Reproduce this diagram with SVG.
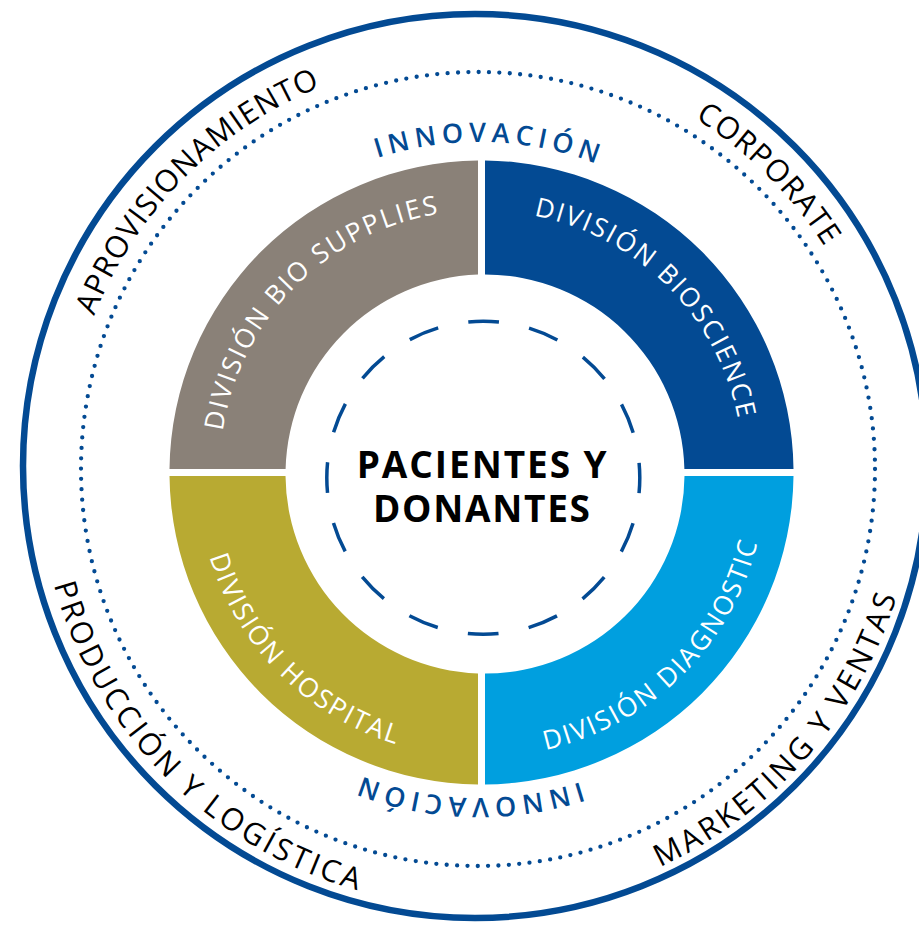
<svg xmlns="http://www.w3.org/2000/svg" xmlns:xlink="http://www.w3.org/1999/xlink" width="919" height="926" viewBox="0 0 919 926">
<style>
.arcTxt{font-family:"Open Sans","Liberation Sans",sans-serif;font-weight:400;}
.outer{font-size:30.5px;fill:#000;}
.outerUp{letter-spacing:1px;}
.outerLow{letter-spacing:3.2px;}
.innov{font-size:27px;fill:#034a93;letter-spacing:5.4px;font-weight:600;}
.div{font-size:26.5px;fill:#fff;letter-spacing:2px;}
.center{font-family:"Open Sans","Liberation Sans",sans-serif;font-weight:700;font-size:37px;fill:#000;}
</style>
<defs>
<path id="pAprov" d="M 79.6 576.7 A 412 412 0 0 1 581.6 69.5"/>
<path id="pCorp" d="M 369 70.4 A 412 412 0 0 1 875.3 573.2"/>
<path id="pProd" d="M 53 354.4 A 439 439 0 0 0 590.6 892"/>
<path id="pMark" d="M 393.2 898.9 A 439 439 0 0 0 892.1 325.1"/>
<path id="pInnTop" d="M 200.5 296.7 A 328 328 0 0 1 768.3 315.5"/>
<path id="pInnBot" d="M 757.5 643.3 A 328 328 0 0 1 189.7 624.5"/>
<path id="pBioSup" d="M 228.8 535.8 A 258 258 0 0 1 544.8 219.8"/>
<path id="pBioSci" d="M 418.2 219.8 A 258 258 0 0 1 734.2 535.8"/>
<path id="pHosp" d="M 207.1 403.4 A 280.5 280.5 0 0 0 550.6 746.9"/>
<path id="pDiag" d="M 410 746.3 A 280.5 280.5 0 0 0 756.6 405.8"/>
</defs>
<rect width="919" height="926" fill="#fff"/>
<g id="rings">
<circle id="outer-ring" cx="475" cy="466" r="452" fill="none" stroke="#034a93" stroke-width="6.5"/>
<circle id="dotted-ring" cx="478" cy="469" r="397" fill="none" stroke="#034a93" stroke-width="4.3" stroke-linecap="round" stroke-dasharray="0 10.393"/>
</g>
<g id="node-aprovisionamiento"><text class="arcTxt outer outerUp"><textPath href="#pAprov" xlink:href="#pAprov" startOffset="50%" text-anchor="middle">APROVISIONAMIENTO</textPath></text></g>
<g id="node-corporate"><text class="arcTxt outer outerUp"><textPath href="#pCorp" xlink:href="#pCorp" startOffset="50%" text-anchor="middle">CORPORATE</textPath></text></g>
<g id="node-produccion"><text class="arcTxt outer outerLow"><textPath href="#pProd" xlink:href="#pProd" startOffset="50%" text-anchor="middle">PRODUCCIÓN Y LOGÍSTICA</textPath></text></g>
<g id="node-marketing"><text class="arcTxt outer outerLow"><textPath href="#pMark" xlink:href="#pMark" startOffset="50%" text-anchor="middle">MARKETING Y VENTAS</textPath></text></g>
<g id="node-innovacion-top"><text class="arcTxt innov"><textPath href="#pInnTop" xlink:href="#pInnTop" startOffset="50%" text-anchor="middle">INNOVACIÓN</textPath></text></g>
<g id="node-innovacion-bottom"><text class="arcTxt innov"><textPath href="#pInnBot" xlink:href="#pInnBot" startOffset="50%" text-anchor="middle">INNOVACIÓN</textPath></text></g>
<g id="node-bio-supplies">
<path d="M 169.5 469 A 312 312 0 0 1 478 160.5 L 478 274.6 A 199.5 199.5 0 0 0 285.6 469 Z" fill="#8a8178"/>
<text class="arcTxt div"><textPath href="#pBioSup" xlink:href="#pBioSup" startOffset="50%" text-anchor="middle">DIVISIÓN BIO SUPPLIES</textPath></text>
</g>
<g id="node-bioscience">
<path d="M 485 160.5 A 312 312 0 0 1 793.5 469 L 684.4 469 A 199.5 199.5 0 0 0 485 274.5 Z" fill="#034a93"/>
<text class="arcTxt div"><textPath href="#pBioSci" xlink:href="#pBioSci" startOffset="50%" text-anchor="middle">DIVISIÓN BIOSCIENCE</textPath></text>
</g>
<g id="node-diagnostic">
<path d="M 793.5 476 A 312 312 0 0 1 485 784.5 L 485 673.5 A 199.5 199.5 0 0 0 684.5 476 Z" fill="#009fdf"/>
<text class="arcTxt div"><textPath href="#pDiag" xlink:href="#pDiag" startOffset="50%" text-anchor="middle">DIVISIÓN DIAGNOSTIC</textPath></text>
</g>
<g id="node-hospital">
<path d="M 478 784.5 A 312 312 0 0 1 169.5 476 L 285.5 476 A 199.5 199.5 0 0 0 478 673.4 Z" fill="#b8aa32"/>
<text class="arcTxt div"><textPath href="#pHosp" xlink:href="#pHosp" startOffset="50%" text-anchor="middle">DIVISIÓN HOSPITAL</textPath></text>
</g>
<g id="node-pacientes">
<circle cx="483.3" cy="477.8" r="156.5" fill="none" stroke="#034a93" stroke-width="3.5" stroke-dasharray="30.73 30.73" stroke-dashoffset="15.36"/>
<text class="center" x="481.7" y="478.3" text-anchor="middle" textLength="250" lengthAdjust="spacing">PACIENTES Y</text>
<text class="center" x="481.5" y="521.7" text-anchor="middle" textLength="217" lengthAdjust="spacing">DONANTES</text>
</g>
</svg>
